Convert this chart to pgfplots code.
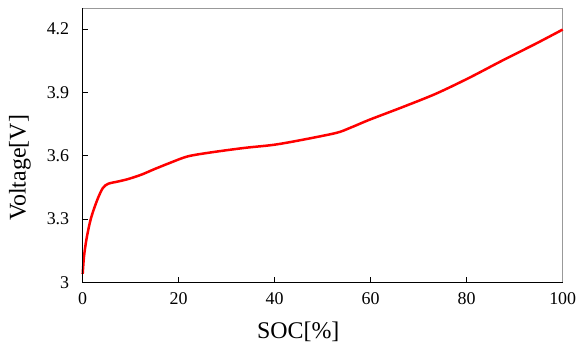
\documentclass[border=0pt]{standalone}
\usepackage{fontspec}
\setmainfont{Liberation Serif}
\usepackage{pgfplots}
\pgfplotsset{compat=1.18}
\begin{document}
\begin{tikzpicture}
\begin{axis}[
  scale only axis,
  width=480bp, height=274.3bp,
  xmin=0, xmax=100, ymin=3, ymax=4.3,
  xtick={0,20,40,60,80,100},
  ytick={3,3.3,3.6,3.9,4.2},
  yticklabels={3,3.3,3.6,3.9,4.2},
  xtick pos=left, ytick pos=left,
  tick align=inside,
  major tick length=5bp,
  tick style={black, line width=0.8bp},
  axis line style={gray!80, line width=1bp},
  /pgf/number format/assume math mode=true,
  tick label style={font=\fontsize{18}{20}\selectfont},
  yticklabel style={xshift=-10bp},
  xticklabel style={yshift=-7bp},
  xlabel={SOC[\%]},
  ylabel={Voltage[V]},
  label style={font=\fontsize{24}{26}\selectfont},
  xlabel style={at={(rel axis cs:0.449,-0.18)}, anchor=center},
  ylabel style={at={(rel axis cs:-0.131,0.417)}, anchor=center},
  clip=false,
]
\addplot[red, line width=2.5bp, smooth, tension=0.5] coordinates {
(0,3.04) (0.27,3.122) (0.75,3.20) (1.46,3.28) (2.15,3.335) (3.2,3.40)
(4.2,3.447) (5.3,3.467) (7.4,3.478) (9.4,3.489) (12.2,3.51) (15.0,3.537) (18.4,3.568)
(21.9,3.597) (26.8,3.616) (33.7,3.637) (39.9,3.652) (45.9,3.676)
(52.8,3.708) (55.6,3.731) (59.8,3.771) (66.7,3.831) (73.6,3.894)
(80.5,3.969) (87.5,4.052) (94.4,4.131) (100,4.198)
};
\draw[black, line width=1.2bp] (rel axis cs:0,1) -- (rel axis cs:0,0) -- (rel axis cs:1,0);
\path (axis cs:-17.23,4.338) rectangle (axis cs:103.81,2.679);
\end{axis}
\end{tikzpicture}
\end{document}
